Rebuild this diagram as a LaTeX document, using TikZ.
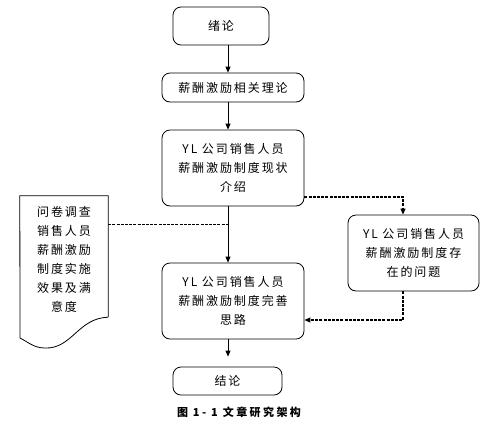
\documentclass[tikz,border=0pt]{standalone}
\usepackage{fontspec}
\setmainfont{Noto Sans CJK SC}[LetterSpace=16]
\newfontfamily\capfont{Noto Sans CJK SC}[LetterSpace=22]
\usetikzlibrary{arrows.meta}
\begin{document}
\begin{tikzpicture}[x=1pt, y=-1pt,
        box/.style={draw, line width=0.8pt, rounded corners=8pt, align=center,
            inner sep=0pt, font=\fontsize{12}{19}\selectfont},
        arr/.style={-{Triangle[length=6pt, width=5pt]}, line width=0.8pt},
        dashline/.style={line width=1.1pt, dash pattern=on 3pt off 1.2pt}]
        \useasboundingbox (0,0) rectangle (494,424);

        % Main column
        \coordinate (col) at (228,0);
        \node[box, minimum width=96pt, minimum height=38pt] (intro) at (221,26) {绪论};
        \node[box, minimum width=142pt, minimum height=29pt] (theory) at (233,87.5) {薪酬激励相关理论};
        \node[box, minimum width=142pt, minimum height=76pt] (status) at (233,168) {YL 公司销售人员\\薪酬激励制度现状\\介绍};
        \node[box, minimum width=142pt, minimum height=76pt] (improve) at (233,301) {YL 公司销售人员\\薪酬激励制度完善\\思路};
        \node[box, minimum width=109pt, minimum height=28pt] (concl) at (227.5,381) {结论};

        % Side boxes
        \node[box, minimum width=131pt, minimum height=76pt] (problem) at (413.5,253) {YL 公司销售人员\\薪酬激励制度存\\在的问题};
        \node[minimum width=88pt, minimum height=121pt, inner sep=0pt] (survey) at (64,256.5) {};
        \draw[line width=0.8pt] (survey.south east) -- (survey.north east) -- (survey.north west) -- (20,338)
            .. controls (28,342) and (34,348) .. (45,348)
            .. controls (72,349) and (78,318) .. (survey.south east);
        \node[align=center, font=\fontsize{12}{19}\selectfont] (surveytext) at (64,259.5)
            {问卷调查\\销售人员\\薪酬激励\\制度实施\\效果及满\\意度};

        % Arrows
        \draw[arr] (intro.south -| col) -- (theory.north -| col);
        \draw[arr] (theory.south -| col) -- (status.north -| col);
        \draw[arr] (status.south -| col) -- (improve.north -| col);
        \draw[arr, shorten >=10pt] (improve.south -| col) -- (concl.north -| col);

        % Dashed links
        \draw[dashline, -{Triangle[length=6pt, width=5pt]}] ([yshift=-29pt]status.east) -| ([xshift=-10.5pt]problem.north);
        \draw[dashline] ([yshift=-29pt]survey.north east) -- ([yshift=-29pt]survey.north east -| col);
        \draw[dashline, -{Triangle[length=6pt, width=5pt]}] ([xshift=-10.5pt]problem.south) |- ([yshift=-19pt]improve.east);

        % Caption
        \node[font=\capfont\bfseries\fontsize{11}{13}\selectfont] (caption) at (239,412) {图 1- 1 文章研究架构};
\end{tikzpicture}
\end{document}
